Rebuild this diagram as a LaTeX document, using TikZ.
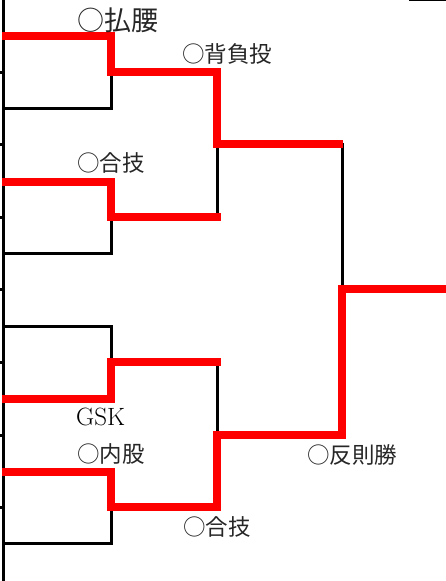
\documentclass[tikz,border=0pt]{standalone}
\usepackage{fontspec}
\newfontfamily\jpfont{Noto Sans CJK JP}
\begin{document}
\begin{tikzpicture}[x=1pt,y=-1pt,
  bk/.style={line width=3pt, black, line join=miter},
  rd/.style={line width=8pt, red, line join=miter},
  lbl/.style={anchor=west, inner sep=0pt, text=black!85, font=\jpfont\fontsize{22.5}{27}\selectfont},
  biglbl/.style={lbl, font=\jpfont\fontsize{27}{32}\selectfont},
  latlbl/.style={anchor=west, inner sep=0pt, text=black, font=\fontsize{25}{30}\selectfont}]
\useasboundingbox (0,0) rectangle (446,581);
% entries
\coordinate (e1) at (2,36);
\coordinate (e2) at (3,108);
\coordinate (e3) at (2,182);
\coordinate (e4) at (3,253);
\coordinate (e5) at (3,326);
\coordinate (e6) at (2,399);
\coordinate (e7) at (2,472);
\coordinate (e8) at (3,543);
% first round junctions
\coordinate (m1) at (111,72);
\coordinate (m2) at (111,217);
\coordinate (m3) at (111,362);
\coordinate (m4) at (111,507);
% second round
\coordinate (s1) at (217,144);
\coordinate (s2) at (217,435);
% final
\coordinate (f) at (342,289);
\coordinate (w) at (446,289);
% left rail and ticks
\coordinate (railtop) at (3.5,0);
\coordinate (railbot) at (3.5,581);
\draw[bk] (railtop) -- (railbot);
\foreach \ty in {72,144,217,289,362,435,507}
  \draw[bk] (0,\ty) -- (3.5,\ty);
% top right border piece
\coordinate (tr1) at (409,0.7);
\coordinate (tr2) at (446,0.7);
\draw[black, line width=1.4pt] (tr1) -- (tr2);
% black bracket lines
\draw[bk] (e2) -| (m1);
\draw[bk] (e4) -| (m2);
\draw[bk] (e5) -| (m3);
\draw[bk] (e8) -| (m4);
\draw[bk] (m2) -| (s1);
\draw[bk] (m3) -| (s2);
\draw[bk] (s1) -| (f);
\draw[bk] (s2) -| (f);
% red winner paths
\draw[rd] (e1) -| (m1) -| (s1) -- ++(125.5,0);
\draw[rd] (e3) -| (m2) -- ++(110,0);
\draw[rd] (e6) -| (m3) -- ++(110,0);
\draw[rd] (e7) -| (m4) -| (s2) -| (f) -- (w);
% labels
\node[biglbl] (l1) at (77,20) {○払腰};
\node[lbl] (l2) at (182,54) {○背負投};
\node[lbl] (l3) at (77,163) {○合技};
\node[latlbl] (l4) at (76,417) {GSK};
\node[lbl] (l5) at (77,454) {○内股};
\node[lbl] (l6) at (183,527) {○合技};
\node[lbl] (l7) at (307,455) {○反則勝};
\end{tikzpicture}
\end{document}
